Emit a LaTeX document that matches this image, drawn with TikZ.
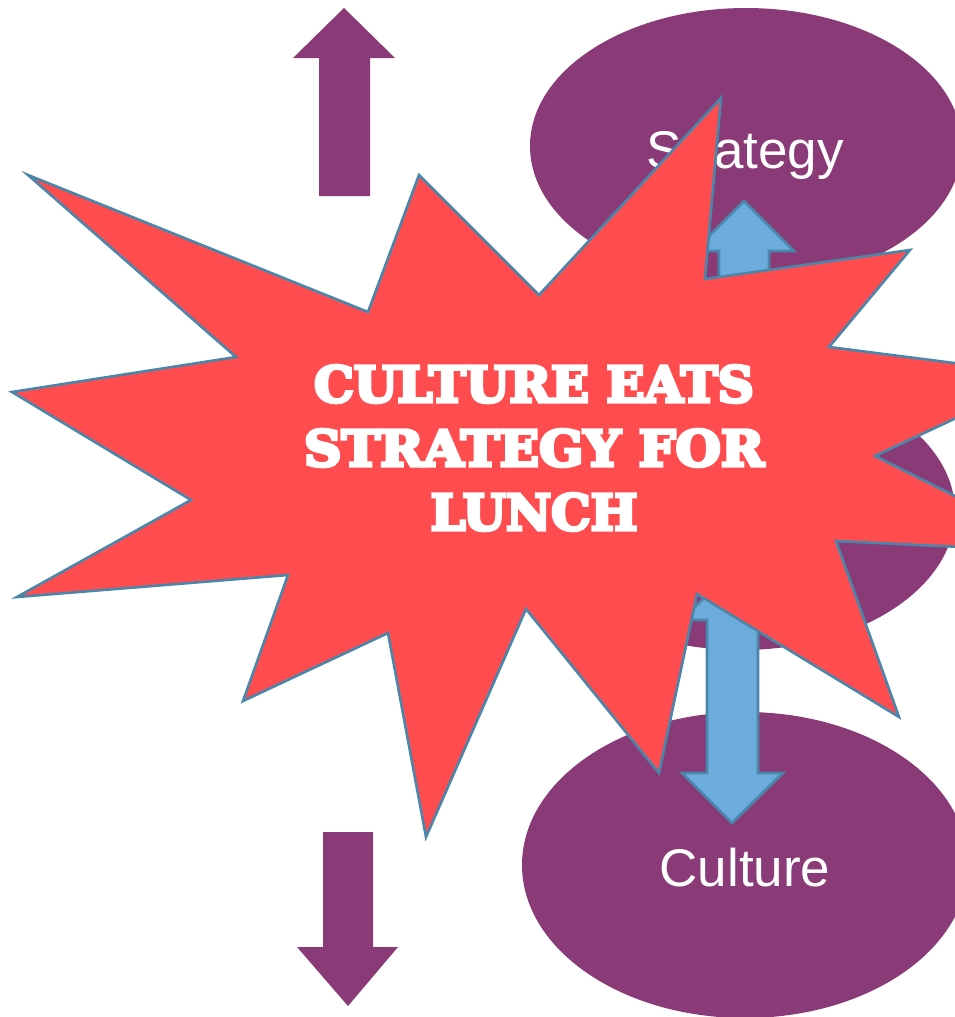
\documentclass[tikz,border=0pt]{standalone}
\usepackage{fontspec}
\setmainfont{Liberation Sans}
\newfontfamily\slabfont[FakeBold=6.5]{DejaVu Serif Bold}
\usetikzlibrary{shapes.geometric}
\definecolor{plum}{HTML}{8A3A76}
\definecolor{skyfill}{HTML}{6CACDD}
\definecolor{edgeblue}{HTML}{4A86AA}
\definecolor{burst}{HTML}{FF4D4F}
\tikzset{
  oval/.style={ellipse,fill=plum,draw=none,inner sep=0pt},
  ovaltext/.style={text=white,font=\fontsize{53}{60}\selectfont,anchor=base,inner sep=0pt},
  plumarrow/.style={fill=plum,draw=none},
  skyarrow/.style={fill=skyfill,draw=edgeblue,line width=2.8pt,line join=miter},
  burststyle/.style={fill=burst,draw=edgeblue,line width=2.6pt,line join=miter},
  bursttext/.style={text=white,font=\slabfont\fontsize{49.5}{64}\selectfont,align=center,inner sep=0pt,anchor=center}
}
\begin{document}
\begin{tikzpicture}[x=1pt,y=-1pt]
\path[use as bounding box,clip] (0,0) rectangle (955,1017);
\node[oval,minimum width=432pt,minimum height=276pt] (strategy) at (746,146) {};
\node[oval,minimum width=428pt,minimum height=276pt] (middle) at (741,512) {};
\node[oval,minimum width=446pt,minimum height=306pt] (culture) at (745,865) {};
\node[ovaltext] (strategylabel) at (745,168) {Strategy};
\node[ovaltext] (culturelabel) at (745,886) {Culture};
\path[plumarrow] (344,8) -- (395,58) -- (370,58) -- (370,196) -- (319,196) -- (319,58) -- (293,58) -- cycle;
\path[plumarrow] (348,1006) -- (398,947) -- (373,947) -- (373,832) -- (323,832) -- (323,947) -- (297,947) -- cycle;
\draw[skyarrow] (744,201) -- (794,251) -- (769,251) -- (769,300) -- (719,300) -- (719,251) -- (694,251) -- cycle;
\draw[skyarrow] (732,570) -- (783,620) -- (758,620) -- (758,773) -- (783,773) -- (732,823) -- (682,773) -- (707,773) -- (707,620) -- (682,620) -- cycle;
\draw[burststyle] (28,175) -- (368,312) -- (419,175) -- (539,295) -- (721,98) -- (705,279) -- (910,250) -- (829,347) -- (1048,375) -- (875,456) -- (1067,552) -- (836,541) -- (899,717) -- (697,594) -- (659,773) -- (526,609) -- (426,837) -- (388,633) -- (243,701) -- (288,575) -- (17,597) -- (191,500) -- (12,392) -- (236,357) -- cycle;
\node[bursttext] (headline) at (534,448) {\scalebox{1.01}[1]{CULTURE EATS}\\\scalebox{1.05}[1]{STRATEGY FOR}\\LUNCH};
\end{tikzpicture}
\end{document}
